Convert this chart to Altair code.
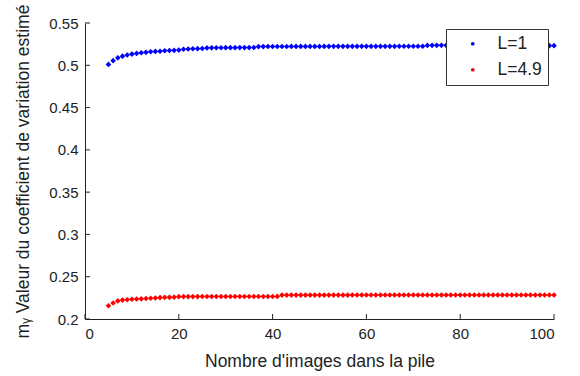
import altair as alt
import pandas as pd

# Number of images in the stack
n_images = list(range(5, 101))

# Estimated coefficient of variation, L=1
cv_L1 = [0.5010, 0.5055, 0.5088, 0.5108, 0.5122, 0.5132, 0.5140, 0.5148, 0.5153, 0.5160,
         0.5164, 0.5166, 0.5172, 0.5175, 0.5177, 0.5180, 0.5190, 0.5193, 0.5195, 0.5197,
         0.5198, 0.5205, 0.5206, 0.5207, 0.5207, 0.5208, 0.5208, 0.5208, 0.5209, 0.5209,
         0.5209, 0.5210, 0.5221, 0.5221, 0.5222, 0.5222, 0.5222, 0.5222, 0.5222, 0.5223,
         0.5223, 0.5223, 0.5223, 0.5223, 0.5223, 0.5223, 0.5223, 0.5224, 0.5224, 0.5224,
         0.5224, 0.5224, 0.5224, 0.5224, 0.5224, 0.5224, 0.5224, 0.5224, 0.5224, 0.5224,
         0.5224, 0.5224, 0.5225, 0.5225, 0.5225, 0.5225, 0.5225, 0.5225, 0.5235, 0.5236,
         0.5236, 0.5236, 0.5236, 0.5236, 0.5236, 0.5236, 0.5236, 0.5236, 0.5236, 0.5236,
         0.5236, 0.5236, 0.5236, 0.5236, 0.5236, 0.5236, 0.5236, 0.5236, 0.5236, 0.5236,
         0.5236, 0.5236, 0.5236, 0.5232, 0.5232, 0.5232]

# Estimated coefficient of variation, L=4.9
cv_L49 = [0.2157, 0.2189, 0.2214, 0.2224, 0.2228, 0.2234, 0.2237, 0.2238, 0.2242, 0.2245,
          0.2248, 0.2253, 0.2255, 0.2256, 0.2258, 0.2264, 0.2265, 0.2265, 0.2265, 0.2265,
          0.2266, 0.2266, 0.2266, 0.2266, 0.2266, 0.2266, 0.2266, 0.2266, 0.2266, 0.2266,
          0.2266, 0.2266, 0.2266, 0.2266, 0.2266, 0.2266, 0.2267, 0.2283, 0.2283, 0.2283,
          0.2283, 0.2283, 0.2283, 0.2283, 0.2283, 0.2283, 0.2283, 0.2283, 0.2283, 0.2283,
          0.2283, 0.2283, 0.2284, 0.2284, 0.2284, 0.2284, 0.2284, 0.2284, 0.2284, 0.2284,
          0.2284, 0.2284, 0.2284, 0.2284, 0.2284, 0.2284, 0.2284, 0.2284, 0.2284, 0.2284,
          0.2284, 0.2284, 0.2284, 0.2284, 0.2284, 0.2284, 0.2284, 0.2284, 0.2284, 0.2284,
          0.2284, 0.2284, 0.2284, 0.2284, 0.2284, 0.2284, 0.2284, 0.2284, 0.2284, 0.2284,
          0.2284, 0.2284, 0.2284, 0.2284, 0.2284, 0.2284]

series_names = ["L=1", "L=4.9"]
series_colors = ["#0000ff", "#ff0000"]

x_ticks = [0, 20, 40, 60, 80, 100]
y_ticks = [0.2, 0.25, 0.3, 0.35, 0.4, 0.45, 0.5, 0.55]

df = pd.DataFrame({
    "N": n_images + n_images,
    "cv": cv_L1 + cv_L49,
    "serie": [series_names[0]] * len(n_images) + [series_names[1]] * len(n_images),
})

W, H = 469, 296
FONT = "Liberation Sans"
AX = "#222222"
XTITLE = "Nombre d'images dans la pile"
YTITLE = "m\u1d67 Valeur du coefficient de variation estimé"

xscale = alt.Scale(domain=[0, 100], nice=False)
yscale = alt.Scale(domain=[0.2, 0.55], nice=False, zero=False)

xaxis = alt.Axis(values=x_ticks, title=XTITLE, titlePadding=11)
yaxis = alt.Axis(values=y_ticks, format=".2~f", title=YTITLE, titlePadding=16)

points = alt.Chart(df).mark_point(shape="diamond", filled=True, size=32, opacity=1).encode(
    x=alt.X("N:Q", scale=xscale, axis=xaxis),
    y=alt.Y("cv:Q", scale=yscale, axis=yaxis),
    color=alt.Color("serie:N",
                    scale=alt.Scale(domain=series_names, range=series_colors),
                    legend=alt.Legend(title=None, orient="none", legendX=361, legendY=6,
                                      symbolType="circle", symbolSize=14,
                                      fillColor="white", strokeColor="#333333",
                                      padding=6, symbolOffset=12, labelOffset=16,
                                      rowPadding=7, labelFontSize=17.5, labelFont=FONT,
                                      labelColor="#222222")),
)

xt = alt.Chart(pd.DataFrame({"N": x_ticks})).mark_rule(color=AX, strokeWidth=1).encode(
    x=alt.X("N:Q", scale=xscale, axis=xaxis),
    y=alt.value(H), y2=alt.value(H - 5),
)
yt = alt.Chart(pd.DataFrame({"cv": y_ticks})).mark_rule(color=AX, strokeWidth=1).encode(
    y=alt.Y("cv:Q", scale=yscale, axis=yaxis),
    x=alt.value(0), x2=alt.value(5),
)

chart = alt.layer(points, xt, yt).properties(
    width=W, height=H,
    background="white",
    autosize=alt.AutoSizeParams(type="none"),
    padding={"left": 85, "top": 23, "right": 26, "bottom": 57},
).configure_view(strokeWidth=0, stroke="transparent").configure_axis(
    grid=False, ticks=False, domainColor=AX, domainWidth=1,
    labelFont=FONT, labelFontSize=15, labelColor="#222222", labelPadding=7,
    titleFont=FONT, titleFontSize=17.5, titleFontWeight="normal", titleColor="#222222",
)

chart.save("out.html", embed_options={"renderer": "svg", "actions": False})
